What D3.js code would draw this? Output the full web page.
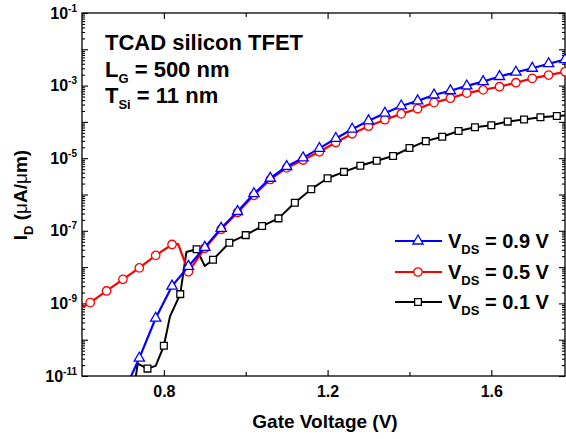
<!DOCTYPE html>
<html>
<head>
<meta charset="utf-8">
<script src="https://cdnjs.cloudflare.com/ajax/libs/d3/7.8.5/d3.min.js"></script>
<style>
body { margin: 0; background: #fff; }
svg { font-family: "Liberation Sans", Arial, sans-serif; font-weight: bold; }
</style>
</head>
<body>
<svg width="566" height="439"></svg>
<script>
// data (Id in uA/um, Vg in V)
var blueVg = [0.74, 0.78, 0.82, 0.86, 0.90, 0.94, 0.98, 1.02, 1.06, 1.10, 1.14, 1.18, 1.22, 1.26,
	1.30, 1.34, 1.38, 1.42, 1.46, 1.50, 1.54, 1.58, 1.62, 1.66, 1.70, 1.74, 1.78];
var blueId = [3.1e-11, 3.9e-10, 3.0e-9, 1.05e-8, 3.5e-8, 1.17e-7, 3.4e-7, 1.05e-6, 2.8e-6, 5.9e-6,
	1.02e-5, 1.86e-5, 3.5e-5, 6.3e-5, 1.07e-4, 1.74e-4, 2.75e-4, 3.8e-4, 5.5e-4, 7.2e-4, 9.8e-4,
	1.29e-3, 1.78e-3, 2.34e-3, 3.0e-3, 4.0e-3, 5.2e-3];
// points of the line that carry no marker
var blueExtraVg = [0.70];
var blueExtraId = [3.2e-12];

var redVg = [0.62, 0.66, 0.70, 0.74, 0.78, 0.82, 0.86, 0.90, 0.94, 0.98, 1.02, 1.06, 1.10, 1.14,
	1.18, 1.22, 1.26, 1.30, 1.34, 1.38, 1.42, 1.46, 1.50, 1.54, 1.58, 1.62, 1.66, 1.70, 1.74, 1.78];
var redId = [1.05e-9, 2.2e-9, 4.6e-9, 9.5e-9, 2.1e-8, 4.2e-8, 7.4e-9, 3.3e-8, 1.1e-7, 3.2e-7,
	9.5e-7, 2.6e-6, 5.4e-6, 8.9e-6, 1.5e-5, 2.7e-5, 4.7e-5, 7.6e-5, 1.15e-4, 1.66e-4, 2.3e-4,
	3.4e-4, 4.5e-4, 6.2e-4, 7.6e-4, 9.3e-4, 1.2e-3, 1.58e-3, 1.95e-3, 2.4e-3];
var redExtraVg = [0.60, 0.835];
var redExtraId = [7.6e-10, 4.3e-8];

var blackVg = [0.76, 0.80, 0.84, 0.88, 0.92, 0.96, 1.00, 1.04, 1.08, 1.12, 1.16, 1.20, 1.24,
	1.28, 1.32, 1.36, 1.40, 1.44, 1.48, 1.52, 1.56, 1.60, 1.64, 1.68, 1.72, 1.76];
var blackId = [1.6e-11, 6.8e-11, 1.8e-9, 3.1e-8, 1.6e-8, 4.7e-8, 7.6e-8, 1.35e-7, 2.2e-7, 5.9e-7,
	1.4e-6, 2.8e-6, 4.2e-6, 6.2e-6, 8.5e-6, 1.15e-5, 1.9e-5, 2.95e-5, 3.9e-5, 5.6e-5, 7.1e-5,
	8.1e-5, 1.02e-4, 1.17e-4, 1.35e-4, 1.45e-4];
var blackExtraVg = [0.728, 0.736, 0.78, 0.815, 0.855, 0.90, 1.80];
var blackExtraId = [5.0e-12, 2.2e-11, 1.9e-11, 4.4e-10, 2.6e-8, 1.07e-8, 1.55e-4];

var legendLabels = ['0.9 V', '0.5 V', '0.1 V'];
var xTickMajor = [0.8, 1.2, 1.6];
var xTickMinor = [1.0, 1.4];
var yLabelExp = [-1, -3, -5, -7, -9, -11];

var svg = d3.select('svg');
var pLeft = 82, pRight = 565, pTop = 13, pBottom = 376;

//scales
var xScale = d3.scaleLinear().domain([0.6, 1.78]).range([pLeft, pRight]);
var yScale = d3.scaleLog().domain([1e-11, 1e-1]).range([pBottom, pTop]);

var yMajor = [], yMinor = [];
for (var e = -11; e <= -1; e++) {
	yMajor.push(Math.pow(10, e));
	if (e < -1) {
		for (var m = 2; m <= 9; m++) yMinor.push(m * Math.pow(10, e));
	}
}

//axes (ticks point inward on all four sides)
var addAxis = function(axis, tr) {
	var a = svg.append('g').attr('transform', tr).call(axis);
	a.select('.domain').remove();
	a.selectAll('line').attr('stroke', '#000').attr('stroke-width', 1.1);
	return a;
}
addAxis(d3.axisBottom(xScale).tickValues(xTickMajor).tickSize(-6).tickPadding(10)
	.tickFormat(d3.format('.1f')), 'translate(0,' + pBottom + ')')
	.selectAll('text').attr('font-size', 16).attr('font-weight', 'bold').attr('fill', '#000')
	.attr('font-family', '"Liberation Sans", Arial, sans-serif');
addAxis(d3.axisBottom(xScale).tickValues(xTickMinor).tickSize(-4).tickFormat(''), 'translate(0,' + pBottom + ')');
addAxis(d3.axisTop(xScale).tickValues(xTickMajor).tickSize(-6).tickFormat(''), 'translate(0,' + pTop + ')');
addAxis(d3.axisTop(xScale).tickValues(xTickMinor).tickSize(-4).tickFormat(''), 'translate(0,' + pTop + ')');
addAxis(d3.axisLeft(yScale).tickValues(yMajor).tickSize(-6).tickFormat(''), 'translate(' + pLeft + ',0)');
addAxis(d3.axisLeft(yScale).tickValues(yMinor).tickSize(-3).tickFormat(''), 'translate(' + pLeft + ',0)');
addAxis(d3.axisRight(yScale).tickValues(yMajor).tickSize(-6).tickFormat(''), 'translate(' + pRight + ',0)');
addAxis(d3.axisRight(yScale).tickValues(yMinor).tickSize(-3).tickFormat(''), 'translate(' + pRight + ',0)');

//y tick labels 10^n
yLabelExp.forEach(function(e) {
	var t = svg.append('text')
		.attr('x', 77).attr('y', yScale(Math.pow(10, e)) + 5.5)
		.attr('text-anchor', 'end').attr('font-size', 16);
	t.append('tspan').text('10');
	t.append('tspan').attr('font-size', 10).attr('dy', -7).text('-' + (-e));
});

//frame
svg.append('rect').attr('x', pLeft).attr('y', pTop)
	.attr('width', pRight - pLeft).attr('height', pBottom - pTop)
	.attr('fill', 'none').attr('stroke', '#000').attr('stroke-width', 1.3);

//clip
svg.append('clipPath').attr('id', 'plotClip').append('rect')
	.attr('x', pLeft).attr('y', pTop).attr('width', pRight - pLeft).attr('height', pBottom - pTop);

var toPoints = function(vg, id) {
	return vg.map(function(v, i) { return {vg: v, id: id[i]}; });
}

var series = [
	{color: '#000', marker: 'square', pts: toPoints(blackVg, blackId), extra: toPoints(blackExtraVg, blackExtraId), w: 2},
	{color: '#ff0000', marker: 'circle', pts: toPoints(redVg, redId), extra: toPoints(redExtraVg, redExtraId), w: 2.2},
	{color: '#0000ff', marker: 'triangle', pts: toPoints(blueVg, blueId), extra: toPoints(blueExtraVg, blueExtraId), w: 2.2}
];

var line = d3.line().x(d => xScale(d.vg)).y(d => yScale(d.id));

var symbolFor = {
	square: d3.symbol(d3.symbolSquare, 46),
	circle: d3.symbol(d3.symbolCircle, 56),
	triangle: d3.symbol(d3.symbolTriangle, 46)
};

var plot = svg.append('g');

series.forEach(function(s) {
	var all = s.pts.concat(s.extra).sort((a, b) => a.vg - b.vg);
	plot.append('path')
		.attr('clip-path', 'url(#plotClip)')
		.attr('d', line(all))
		.attr('fill', 'none').attr('stroke', s.color).attr('stroke-width', s.w)
		.attr('stroke-linejoin', 'round');
	plot.append('g').selectAll('path')
		.data(s.pts.filter(d => d.id >= 1e-11))
		.enter().append('path')
		.attr('transform', d => 'translate(' + xScale(d.vg) + ',' + yScale(d.id) + ')')
		.attr('d', symbolFor[s.marker]())
		.attr('fill', '#fff').attr('stroke', s.color).attr('stroke-width', 1.3);
});

//legend
var legendSeries = [series[2], series[1], series[0]];
var legendY = [241, 272, 302];
legendSeries.forEach(function(s, i) {
	var y = legendY[i];
	svg.append('line').attr('x1', 395).attr('x2', 442).attr('y1', y).attr('y2', y)
		.attr('stroke', s.color).attr('stroke-width', s.w);
	svg.append('path').attr('transform', 'translate(418,' + y + ')')
		.attr('d', symbolFor[s.marker]())
		.attr('fill', '#fff').attr('stroke', s.color).attr('stroke-width', 1.3);
	var t = svg.append('text').attr('x', 448).attr('y', y + 6.5).attr('font-size', 20);
	t.append('tspan').text('V');
	t.append('tspan').attr('font-size', 13).attr('dy', 6).text('DS');
	t.append('tspan').attr('dy', -6).text(' = ' + legendLabels[i]);
});

//annotation
var note = svg.append('g').attr('font-size', 22);
note.append('text').attr('x', 105).attr('y', 50).text('TCAD silicon TFET');
var n2 = note.append('text').attr('x', 105).attr('y', 77);
n2.append('tspan').text('L');
n2.append('tspan').attr('font-size', 13).attr('dy', 6).text('G');
n2.append('tspan').attr('dy', -6).text(' = 500 nm');
var n3 = note.append('text').attr('x', 105).attr('y', 103);
n3.append('tspan').text('T');
n3.append('tspan').attr('font-size', 13).attr('dy', 6).text('Si');
n3.append('tspan').attr('dy', -6).text(' = 11 nm');

//axis titles
svg.append('text').attr('x', 325).attr('y', 428).attr('text-anchor', 'middle')
	.attr('font-size', 19).text('Gate Voltage (V)');
var yt = svg.append('text').attr('transform', 'translate(27,195) rotate(-90)')
	.attr('text-anchor', 'middle').attr('font-size', 19);
yt.append('tspan').text('I');
yt.append('tspan').attr('font-size', 13).attr('dy', 6).text('D');
yt.append('tspan').attr('dy', -6).text(' (');
yt.append('tspan').attr('font-weight', 'normal').text('\u03bc');
yt.append('tspan').text('A/');
yt.append('tspan').attr('font-weight', 'normal').text('\u03bc');
yt.append('tspan').text('m)');
</script>
</body>
</html>
